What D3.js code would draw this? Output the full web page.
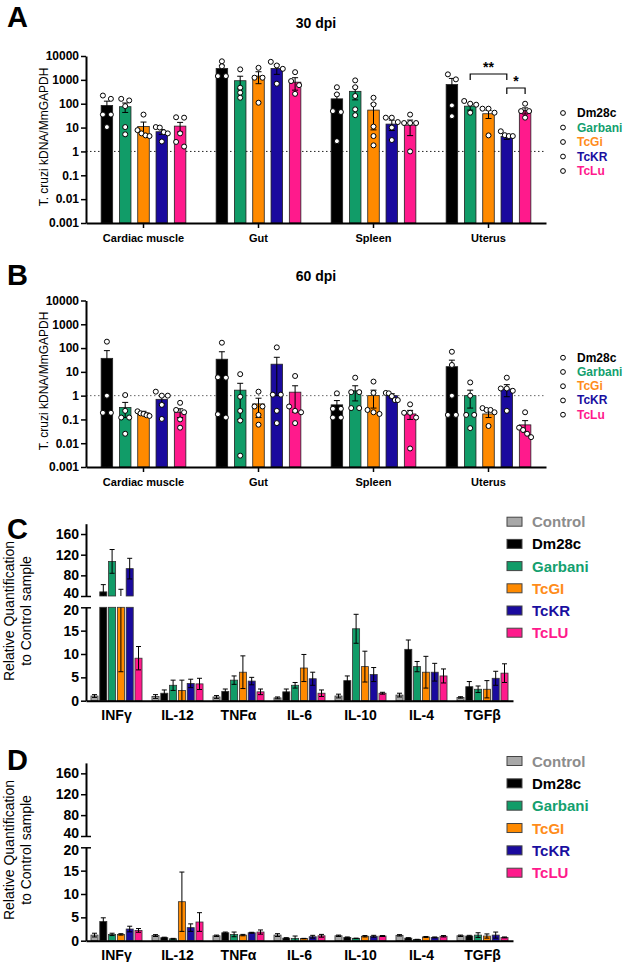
<!DOCTYPE html>
<html><head><meta charset="utf-8">
<script src="https://cdn.jsdelivr.net/npm/d3@7"></script>
<style>
body{margin:0;background:#fff}
text{font-family:"Liberation Sans",Arial,Helvetica,sans-serif}
</style>
</head><body>
<svg id="chart" width="625" height="962"></svg>
<script>
// ---------- DATA ----------
const organs = ["Cardiac muscle", "Gut", "Spleen", "Uterus"];
const strains = ["Dm28c", "Garbani", "TcGi", "TcKR", "TcLu"];
const logTicks = [0.001, 0.01, 0.1, 1, 10, 100, 1000, 10000];
const logTickLabels = ["0.001", "0.01", "0.1", "1", "10", "100", "1000", "10000"];

// 30 dpi: [organ][strain]
const mean30 = [[85, 75, 11, 6.7, 11.5], [3000, 920, 1440, 3000, 800], [160, 330, 54, 14, 12.6], [640, 79, 38, 4.2, 52]];
const sem30 = [[43, 32, 6, 1.5, 5], [1100, 500, 750, 1300, 430], [100, 185, 46, 6.5, 8], [510, 25, 14, 1.0, 15]];
const pts30 = [
  [[220, 160, 35, 35, 10.5], [160, 137, 79, 10.5, 5.2], [35, 7.8, 4.4, 4.7, 5.7], [10.5, 10, 6.4, 2.6, 5.7], [27, 26, 5.7, 2.5, 1.6]],
  [[6000, 3700, 1440, 1440], [2750, 470, 290, 178], [3200, 1230, 1230, 110], [4000, 5700, 2900, 690], [2100, 890, 600, 260]],
  [[490, 245, 49, 45, 2.7], [950, 490, 210, 58, 33], [178, 93, 11, 4.4, 1.8], [26, 26, 17, 10, 3], [35, 15.5, 15.5, 15.5, 1]],
  [[1700, 1050, 85, 30], [100, 130, 91, 42], [62, 62, 42, 4.7], [7, 4.4, 4.8, 4.4], [100, 49, 49, 26]]
];
const sig30 = [
  {organ: "Uterus", from: "Garbani", to: "TcKR", label: "**"},
  {organ: "Uterus", from: "TcKR", to: "TcLu", label: "*"}
];

// 60 dpi
const mean60 = [[37, 0.32, 0.19, 0.7, 0.2], [34, 1.7, 0.45, 21, 1.4], [0.41, 1.6, 1.0, 1.0, 0.17], [16.5, 1.0, 0.17, 1.9, 0.059]];
const sem60 = [[41, 0.2, 0.03, 0.25, 0.08], [36, 1.6, 0.33, 20, 1.2], [0.21, 1.0, 0.7, 0.2, 0.07], [14.5, 0.7, 0.05, 1.0, 0.03]];
const pts60 = [
  [[186, 1.0, 0.19, 0.19], [1.06, 0.23, 0.12, 0.12, 0.025], [0.22, 0.18, 0.17, 0.15, 0.14], [1.47, 1.0, 1.0, 0.41, 0.105], [0.5, 0.25, 0.2, 0.1, 0.045]],
  [[168, 5.9, 5.7, 0.165, 0.12], [8, 0.9, 0.23, 0.09, 0.003], [1.47, 0.35, 0.35, 0.155, 0.06], [107, 1.1, 1.1, 0.23, 0.07], [6.7, 0.35, 0.23, 0.2, 0.07]],
  [[1.25, 0.28, 0.28, 0.12, 0.12], [5.7, 1.4, 1.4, 0.3, 0.3], [3.9, 1.3, 0.25, 0.2, 0.17], [1.3, 1.25, 0.95, 0.65, 0.65], [0.43, 0.19, 0.19, 0.12, 0.006]],
  [[70, 19.5, 1.0, 0.155, 0.155], [3.6, 1.0, 0.155, 0.155, 0.043], [0.3, 0.25, 0.25, 0.2, 0.053], [5.7, 2.0, 2.0, 1.6, 0.23], [0.2, 0.045, 0.036, 0.025, 0.018]]
];

// Cytokines
const cytokines = ["INFγ", "IL-12", "TNFα", "IL-6", "IL-10", "IL-4", "TGFβ"];
const groups = ["Control", "Dm28c", "Garbani", "TcGI", "TcKR", "TcLU"];
const upperTicks = [40, 80, 120, 160];
const lowerTicks = [0, 5, 10, 15, 20];
// [cytokine][group]
const meanC = [
  [1.0, 48, 107, 29.6, 93, 9.1],
  [0.9, 1.6, 3.3, 2.2, 3.7, 3.6],
  [0.8, 2.0, 4.4, 6.1, 4.2, 1.9],
  [0.6, 1.9, 3.3, 7.0, 4.7, 1.6],
  [1.0, 4.3, 15.4, 7.3, 5.6, 1.6],
  [1.2, 11.0, 7.3, 6.1, 6.1, 5.3],
  [0.7, 3.0, 2.45, 2.45, 4.8, 5.9]
];
const errC = [
  [0.3, 14, 23, 23.4, 20, 2.5],
  [0.4, 0.7, 1.1, 2.2, 0.9, 1.2],
  [0.3, 0.5, 0.9, 3.5, 0.8, 0.6],
  [0.2, 0.6, 0.6, 2.9, 1.4, 0.7],
  [0.4, 1.0, 3.1, 3.3, 1.5, 0.2],
  [0.4, 2.0, 1.1, 3.4, 1.9, 1.5],
  [0.15, 1.1, 0.7, 1.85, 1.5, 2.0]
];
const meanD = [
  [1.2, 4.1, 1.35, 1.35, 2.5, 2.2],
  [1.1, 0.65, 0.4, 8.35, 2.8, 4.0],
  [1.05, 1.7, 1.35, 1.2, 1.7, 1.85],
  [1.2, 0.55, 0.5, 0.45, 0.85, 1.05],
  [1.05, 0.7, 0.5, 0.95, 0.95, 1.0],
  [1.15, 0.55, 0.25, 0.8, 0.7, 0.95],
  [1.05, 1.0, 1.2, 1.0, 1.2, 0.7]
];
const errD = [
  [0.4, 0.8, 0.25, 0.15, 0.6, 0.4],
  [0.2, 0.1, 0.1, 6.35, 0.8, 2.0],
  [0.15, 0.15, 0.5, 0.15, 0.1, 0.45],
  [0.3, 0.1, 0.5, 0.05, 0.3, 0.3],
  [0.15, 0.1, 0.05, 0.15, 0.2, 0.1],
  [0.15, 0.1, 0.05, 0.1, 0.1, 0.15],
  [0.15, 0.15, 0.5, 0.45, 0.65, 0.1]
];

// ---------- STYLE ----------
const strainColor = ["#000000", "#119c68", "#ff8a00", "#1a0a9e", "#ff1a8c"];
const strainText = ["#000000", "#13a06e", "#ff8c1a", "#1a0fa0", "#ff1a8c"];
const groupColor = ["#a8a8a8", "#000000", "#119c68", "#ff8a00", "#1a0a9e", "#ff1a8c"];
const groupText = ["#8c8c8c", "#000000", "#13a06e", "#ff8c1a", "#1a0fa0", "#ff1a8c"];

const svg = d3.select("#chart");

function letter(x, y, t) {
  svg.append("text").attr("x", x).attr("y", y).text(t)
    .attr("font-size", 29).attr("font-weight", "bold");
}

function layoutPts(vals, y) {
  const arr = vals.map(v => ({v, y: y(v)})).sort((a, b) => a.y - b.y);
  const clusters = []; let cur = [];
  arr.forEach(p => {
    if (cur.length && p.y - cur[cur.length - 1].y > 5) { clusters.push(cur); cur = []; }
    cur.push(p);
  });
  if (cur.length) clusters.push(cur);
  clusters.forEach(c => {
    const n = c.length;
    const sp = n > 1 ? Math.min(8, 12 / (n - 1)) : 0;
    c.forEach((p, i) => p.dx = (i - (n - 1) / 2) * sp);
  });
  return arr;
}

function drawLogPanel(o) {
  const g = svg.append("g");
  const xL = 86, xR = 546;
  const x0 = d3.scaleBand().domain(organs).range([xL, xR]);
  const x1 = d3.scaleBand().domain(strains).range([-45.75, 45.75]).paddingInner(0.37).paddingOuter(0.185);
  const y = d3.scaleLog().domain([0.001, 10000]).range([o.yBot, o.yTop]);
  const cx = (org, s) => x0(org) + x0.bandwidth() / 2 + x1(s) + x1.bandwidth() / 2;

  g.append("line").attr("x1", xL).attr("x2", xR).attr("y1", y(1)).attr("y2", y(1))
    .attr("stroke", o.dotColor).attr("stroke-width", 1).attr("stroke-dasharray", "1.5,2.5");

  const bw = x1.bandwidth();
  organs.forEach((org, i) => strains.forEach((s, j) => {
    const m = o.mean[i][j], e = o.sem[i][j], c = cx(org, s);
    g.append("rect").attr("x", c - bw / 2).attr("width", bw)
      .attr("y", y(m)).attr("height", o.yBot - y(m))
      .attr("fill", strainColor[j]).attr("stroke", "#222").attr("stroke-width", 0.8);
    const hi = m + e, lo = m - e;
    const yLo = lo > 0.001 ? y(lo) : o.yBot;
    g.append("line").attr("x1", c).attr("x2", c).attr("y1", y(hi)).attr("y2", yLo)
      .attr("stroke", "#000").attr("stroke-width", 1);
    g.append("line").attr("x1", c - 3).attr("x2", c + 3).attr("y1", y(hi)).attr("y2", y(hi))
      .attr("stroke", "#000").attr("stroke-width", 1);
    if (lo > 0.001) g.append("line").attr("x1", c - 3).attr("x2", c + 3).attr("y1", y(lo)).attr("y2", y(lo))
      .attr("stroke", "#000").attr("stroke-width", 1);
  }));
  organs.forEach((org, i) => strains.forEach((s, j) => {
    const c = cx(org, s);
    layoutPts(o.pts[i][j], y).forEach(p => {
      g.append("circle").attr("cx", c + p.dx).attr("cy", p.y).attr("r", 2.5)
        .attr("fill", "#fff").attr("stroke", "#000").attr("stroke-width", 1);
    });
  }));

  // axes
  const ay = g.append("g").attr("transform", `translate(${xL},0)`)
    .call(d3.axisLeft(y).tickValues(logTicks).tickFormat((d, i) => logTickLabels[i]).tickSize(5).tickSizeOuter(0));
  ay.select(".domain").attr("stroke-width", 2);
  ay.selectAll(".tick line").attr("stroke-width", 1.5);
  ay.selectAll(".tick text").attr("x", -7).attr("font-size", 12).attr("font-weight", "bold")
    .attr("font-family", '"Liberation Sans",Arial,sans-serif').attr("fill", "#000");
  const ax = g.append("g").attr("transform", `translate(0,${o.yBot})`)
    .call(d3.axisBottom(x0).tickSize(5).tickSizeOuter(0));
  ax.select(".domain").attr("stroke-width", 2);
  ax.selectAll(".tick line").attr("stroke-width", 1.5);
  ax.selectAll(".tick text").attr("y", 11).attr("font-size", 11).attr("font-weight", "bold")
    .attr("font-family", '"Liberation Sans",Arial,sans-serif').attr("fill", "#000");

  // y label
  g.append("text").attr("transform", `translate(44,${o.yLab}) rotate(-90)`)
    .attr("text-anchor", "middle").attr("dominant-baseline", "central")
    .attr("font-size", 12).text("T. cruzi kDNA/MmGAPDH");
  // title
  g.append("text").attr("x", 316).attr("y", o.titleY).attr("text-anchor", "middle")
    .attr("font-size", 14).attr("font-weight", "bold").text(o.title);
  // legend
  strains.forEach((s, j) => {
    const yy = o.legY + j * o.legStep;
    g.append("circle").attr("cx", 563).attr("cy", yy).attr("r", 2.4)
      .attr("fill", "#fff").attr("stroke", "#000").attr("stroke-width", 1);
    g.append("text").attr("x", 577).attr("y", yy).attr("dominant-baseline", "central")
      .attr("font-size", 12).attr("font-weight", "bold").attr("fill", strainText[j]).text(s);
  });
  // significance brackets
  if (o.sig) {
    const tops = [o.yTop + 18, o.yTop + 32];
    o.sig.forEach((sg, k) => {
      const xa = cx(sg.organ, sg.from), xb = cx(sg.organ, sg.to), yt = tops[k];
      g.append("path").attr("d", `M${xa},${yt + 6}V${yt}H${xb}V${yt + 6}`)
        .attr("fill", "none").attr("stroke", "#000").attr("stroke-width", 1.2);
      g.append("text").attr("x", (xa + xb) / 2).attr("y", yt - 2).attr("text-anchor", "middle")
        .attr("font-size", 14).attr("font-weight", "bold").text(sg.label);
    });
  }
}

function drawBreakPanel(o) {
  const g = svg.append("g");
  const xL = 86, xR = 513;
  const x0 = d3.scaleBand().domain(cytokines).range([xL, xR]);
  const x1 = d3.scaleBand().domain(groups).range([-26.4, 26.4]).paddingInner(0.2).paddingOuter(0.1);
  const yL = d3.scaleLinear().domain([0, 20]).range([o.y0, o.y20]);
  const yU = d3.scaleLinear().domain([40, 180]).range([o.y40, o.y180]);
  const bw = x1.bandwidth();

  cytokines.forEach((ck, i) => groups.forEach((gr, j) => {
    const v = o.mean[i][j], e = o.err[i][j];
    const c = x0(ck) + x0.bandwidth() / 2 + x1(gr) + bw / 2;
    const vl = Math.min(v, 20);
    g.append("rect").attr("x", c - bw / 2).attr("width", bw).attr("y", yL(vl)).attr("height", yL(0) - yL(vl))
      .attr("fill", groupColor[j]).attr("stroke", "#333").attr("stroke-width", 0.8);
    if (v > 40) {
      g.append("rect").attr("x", c - bw / 2).attr("width", bw).attr("y", yU(v)).attr("height", yU(40) - yU(v))
        .attr("fill", groupColor[j]).attr("stroke", "#333").attr("stroke-width", 0.8);
    }
    const lo = Math.max(v - e, 0), hi = v + e;
    const ln = (y1, y2) => g.append("line").attr("x1", c).attr("x2", c).attr("y1", y1).attr("y2", y2)
      .attr("stroke", "#000").attr("stroke-width", 1);
    const cap = yy => g.append("line").attr("x1", c - 2.5).attr("x2", c + 2.5).attr("y1", yy).attr("y2", yy)
      .attr("stroke", "#000").attr("stroke-width", 1);
    if (lo < 20) {
      ln(yL(lo), yL(Math.min(hi, 20)));
      if (lo > 0) cap(yL(lo));
      if (hi <= 20) cap(yL(hi));
    }
    if (hi > 40) {
      ln(yU(Math.max(lo, 40)), yU(Math.min(hi, 180)));
      cap(yU(hi));
      if (lo >= 40) cap(yU(lo));
    }
  }));

  const fontF = '"Liberation Sans",Arial,sans-serif';
  const styleAxis = (a) => {
    a.select(".domain").attr("stroke-width", 2);
    a.selectAll(".tick line").attr("stroke-width", 1.5);
    a.selectAll(".tick text").attr("x", -7).attr("font-size", 14).attr("font-weight", "bold")
      .attr("font-family", fontF).attr("fill", "#000");
  };
  const au = g.append("g").attr("transform", `translate(${xL},0)`)
    .call(d3.axisLeft(yU).tickValues(upperTicks).tickSize(5).tickSizeOuter(0));
  styleAxis(au);
  const t40 = au.selectAll(".tick").filter(d => d === 40);
  t40.select("line").attr("x1", 5);
  t40.select("text").attr("y", -2.5);
  const al = g.append("g").attr("transform", `translate(${xL},0)`)
    .call(d3.axisLeft(yL).tickValues(lowerTicks).tickSize(5).tickSizeOuter(0));
  styleAxis(al);
  const t20 = al.selectAll(".tick").filter(d => d === 20);
  t20.select("line").attr("x1", 5);
  t20.select("text").attr("y", 2.5);

  const ax = g.append("g").attr("transform", `translate(0,${o.y0})`)
    .call(d3.axisBottom(x0).tickSize(0).tickSizeOuter(0));
  ax.select(".domain").attr("stroke-width", 2);
  ax.selectAll(".tick text").attr("y", 9).attr("font-size", 14).attr("font-weight", "bold")
    .attr("font-family", fontF).attr("fill", "#000");

  // y label
  const yl = g.append("text").attr("transform", `translate(9,${o.yLab}) rotate(-90)`)
    .attr("text-anchor", "middle").attr("font-size", 14);
  yl.append("tspan").attr("x", 0).attr("dy", "0.35em").text("Relative Quantification");
  yl.append("tspan").attr("x", 0).attr("dy", 17.5).text("to Control sample");

  // legend
  groups.forEach((gr, j) => {
    const yy = o.legY + j * o.legStep;
    g.append("rect").attr("x", 507).attr("y", yy - 4.5).attr("width", 15).attr("height", 9)
      .attr("fill", groupColor[j]).attr("stroke", "#444").attr("stroke-width", 1);
    g.append("text").attr("x", 532).attr("y", yy).attr("dominant-baseline", "central")
      .attr("font-size", 15).attr("font-weight", "bold").attr("fill", groupText[j]).text(gr);
  });
}

letter(7, 27, "A");
drawLogPanel({yTop: 56, yBot: 223, mean: mean30, sem: sem30, pts: pts30, title: "30 dpi", titleY: 28,
  yLab: 137, legY: 113, legStep: 14.5, sig: sig30, dotColor: "#222"});
letter(7, 285, "B");
drawLogPanel({yTop: 300.5, yBot: 467, mean: mean60, sem: sem60, pts: pts60, title: "60 dpi", titleY: 281,
  yLab: 381, legY: 357.7, legStep: 14.25, dotColor: "#666"});
letter(7, 539, "C");
drawBreakPanel({y0: 700.7, y20: 607.3, y40: 596, y180: 523.7, mean: meanC, err: errC, yLab: 611,
  legY: 521.7, legStep: 22.2});
letter(7, 770, "D");
drawBreakPanel({y0: 940.7, y20: 847.3, y40: 836, y180: 762.9, mean: meanD, err: errD, yLab: 850,
  legY: 761, legStep: 22.34});
</script>
</body></html>
